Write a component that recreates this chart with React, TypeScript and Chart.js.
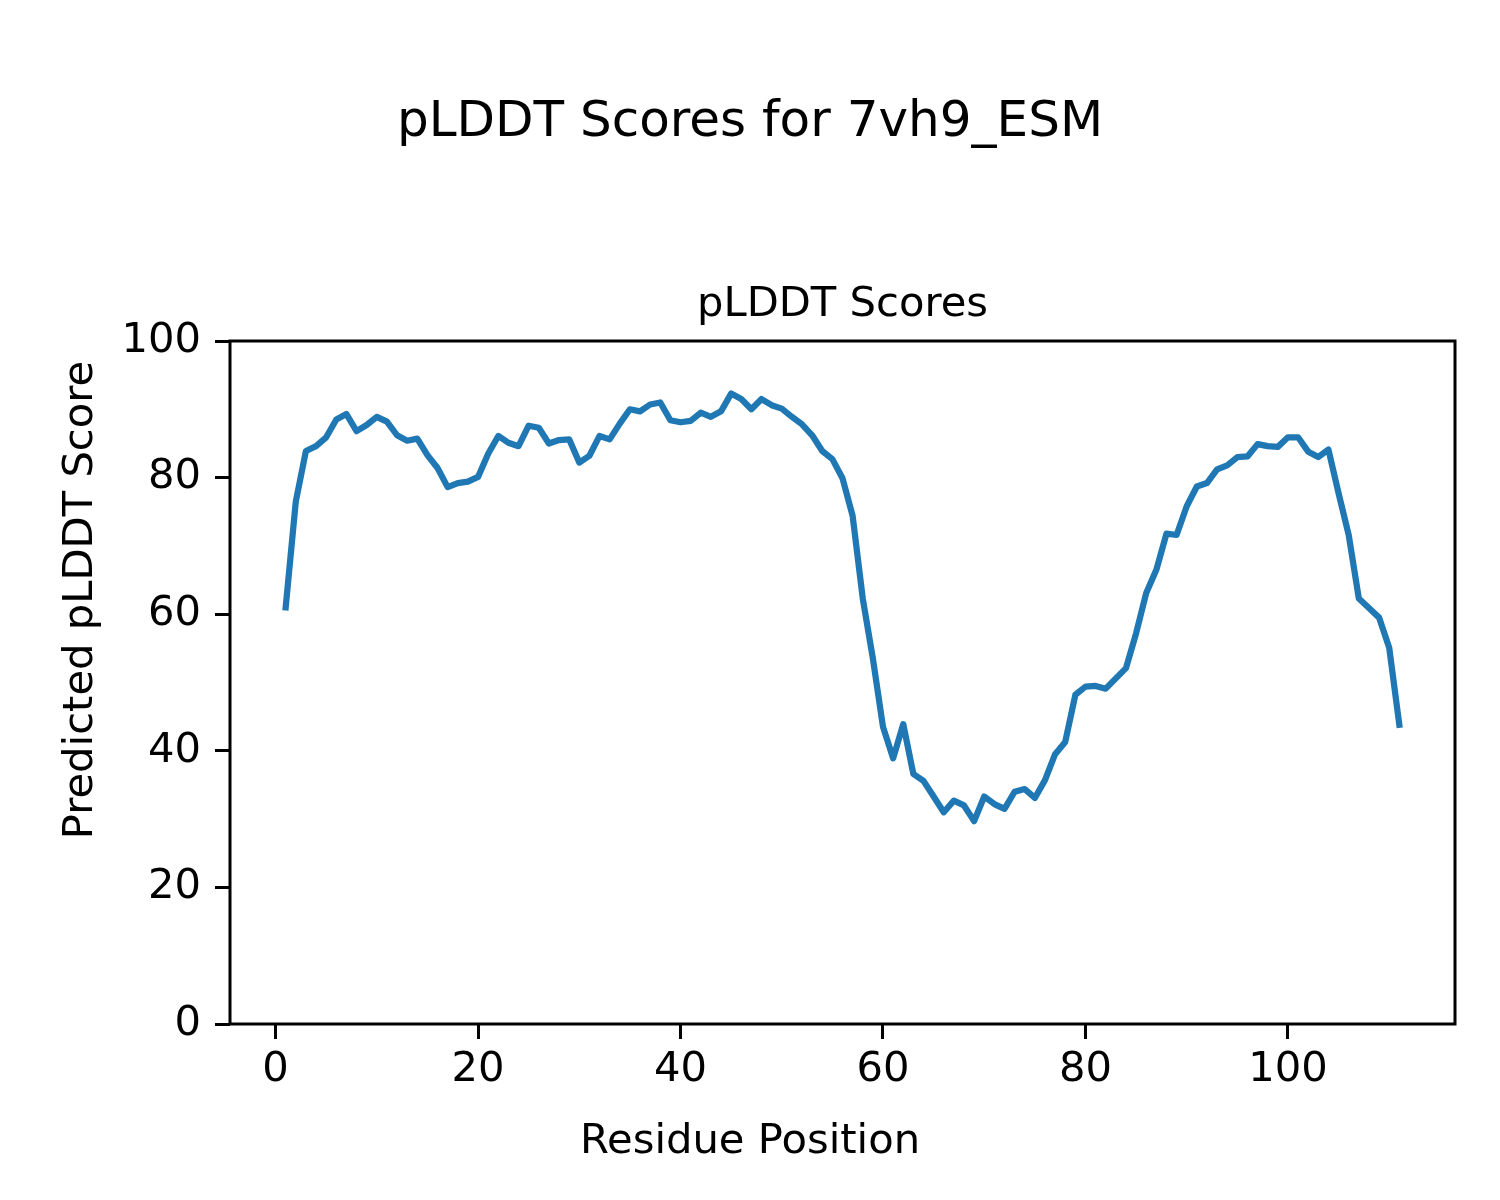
import React, { useEffect, useRef } from "react";
import { Chart, registerables } from "chart.js";

Chart.register(...registerables);

const suptitleText = "pLDDT Scores for 7vh9_ESM";
const axesTitleText = "pLDDT Scores";
const xLabelText = "Residue Position";
const yLabelText = "Predicted pLDDT Score";

const residues = [
  1, 2, 3, 4, 5, 6, 7, 8, 9, 10, 11, 12, 13, 14, 15, 16, 17, 18, 19, 20,
  21, 22, 23, 24, 25, 26, 27, 28, 29, 30, 31, 32, 33, 34, 35, 36, 37, 38, 39, 40,
  41, 42, 43, 44, 45, 46, 47, 48, 49, 50, 51, 52, 53, 54, 55, 56, 57, 58, 59, 60,
  61, 62, 63, 64, 65, 66, 67, 68, 69, 70, 71, 72, 73, 74, 75, 76, 77, 78, 79, 80,
  81, 82, 83, 84, 85, 86, 87, 88, 89, 90, 91, 92, 93, 94, 95, 96, 97, 98, 99, 100,
  101, 102, 103, 104, 105, 106, 107, 108, 109, 110, 111,
];

const scores = [
  61.0, 76.5, 83.9, 84.6, 85.9, 88.5, 89.3, 86.8, 87.7, 88.9,
  88.2, 86.2, 85.4, 85.7, 83.3, 81.4, 78.6, 79.2, 79.4, 80.1,
  83.5, 86.1, 85.1, 84.6, 87.6, 87.3, 85.0, 85.5, 85.6, 82.2,
  83.2, 86.1, 85.6, 87.9, 90.0, 89.7, 90.7, 91.0, 88.4, 88.1,
  88.3, 89.5, 88.9, 89.7, 92.3, 91.5, 90.0, 91.5, 90.6, 90.1,
  88.9, 87.8, 86.2, 83.9, 82.7, 79.9, 74.4, 62.3, 53.5, 43.5,
  38.9, 43.9, 36.6, 35.6, 33.3, 31.0, 32.7, 32.0, 29.7, 33.3,
  32.2, 31.5, 34.0, 34.4, 33.1, 35.7, 39.5, 41.3, 48.2, 49.4,
  49.5, 49.1, 50.6, 52.1, 57.2, 63.1, 66.5, 71.8, 71.6, 75.8,
  78.7, 79.2, 81.2, 81.8, 83.0, 83.1, 84.9, 84.6, 84.5, 85.9,
  85.9, 83.8, 83.0, 84.1, 77.7, 71.6, 62.3, 60.9, 59.5, 55.1,
  43.8,
];

const xTicks = [0, 20, 40, 60, 80, 100];
const yTicks = [0, 20, 40, 60, 80, 100];

const FONT = "'DejaVu Sans', 'Liberation Sans', sans-serif";

export default function App() {
  const canvasRef = useRef<HTMLCanvasElement | null>(null);

  useEffect(() => {
    const canvas = canvasRef.current;
    if (!canvas) return;

    const decorPlugin = {
      id: "decor",
      afterDraw(chart: any) {
        const ctx = chart.ctx;
        const a = chart.chartArea;
        ctx.save();
        ctx.strokeStyle = "#000";
        ctx.lineWidth = 3;
        ctx.strokeRect(a.left, a.top, a.right - a.left, a.bottom - a.top);
        ctx.fillStyle = "#000";
        ctx.font = `50px ${FONT}`;
        ctx.textAlign = "center";
        ctx.textBaseline = "alphabetic";
        ctx.fillText(suptitleText, 750, 136);
        ctx.font = `41.7px ${FONT}`;
        ctx.fillText(axesTitleText, (a.left + a.right) / 2, 316);
        ctx.fillText(xLabelText, 750, 1153);
        ctx.translate(92, 600);
        ctx.rotate(-Math.PI / 2);
        ctx.fillText(yLabelText, 0, 0);
        ctx.restore();
      },
    };

    const chart = new Chart(canvas, {
      type: "line",
      data: {
        datasets: [
          {
            data: residues.map((r, i) => ({ x: r, y: scores[i] })),
            borderColor: "#1f77b4",
            borderWidth: 6.25,
            pointRadius: 0,
            fill: false,
            tension: 0,
            borderCapStyle: "square",
            borderJoinStyle: "round",
          },
        ],
      },
      options: {
        responsive: false,
        animation: false,
        devicePixelRatio: 1,
        layout: { padding: { top: 341, right: 45, left: 0, bottom: 0 } },
        plugins: {
          legend: { display: false },
          tooltip: { enabled: false },
          title: { display: false },
        },
        scales: {
          x: {
            type: "linear",
            min: -4.5,
            max: 116.5,
            afterBuildTicks: (scale: any) => {
              scale.ticks = xTicks.map((v) => ({ value: v }));
            },
            afterFit: (scale: any) => {
              scale.height = 176;
            },
            grid: {
              drawOnChartArea: false,
              drawTicks: true,
              tickLength: 15,
              tickWidth: 3,
              tickColor: "#000",
            },
            border: { display: false },
            ticks: {
              color: "#000",
              font: { family: FONT, size: 41.7 },
              padding: 6,
              maxRotation: 0,
              autoSkip: false,
            },
          },
          y: {
            type: "linear",
            min: 0,
            max: 100,
            afterBuildTicks: (scale: any) => {
              scale.ticks = yTicks.map((v) => ({ value: v }));
            },
            afterFit: (scale: any) => {
              scale.width = 230;
            },
            grid: {
              drawOnChartArea: false,
              drawTicks: true,
              tickLength: 15,
              tickWidth: 3,
              tickColor: "#000",
            },
            border: { display: false },
            ticks: {
              color: "#000",
              font: { family: FONT, size: 41.7 },
              padding: 14,
              autoSkip: false,
            },
          },
        },
      },
      plugins: [decorPlugin],
    } as any);

    return () => chart.destroy();
  }, []);

  return (
    <div style={{ position: "absolute", left: 0, top: 0, width: 1500, height: 1200, background: "#fff" }}>
      <canvas ref={canvasRef} width={1500} height={1200} style={{ width: 1500, height: 1200 }} />
    </div>
  );
}
